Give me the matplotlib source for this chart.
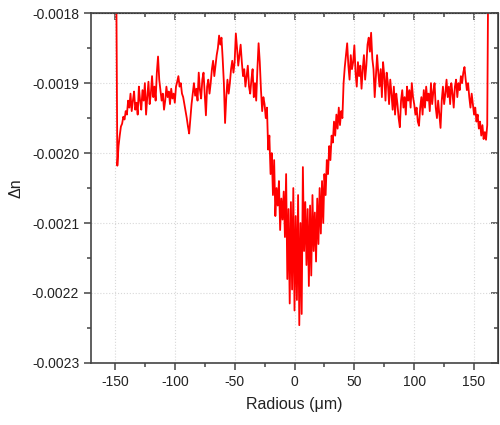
import matplotlib

matplotlib.use("Agg")
import matplotlib.pyplot as plt
from matplotlib.ticker import MultipleLocator, FormatStrFormatter

plt.rcParams["font.family"] = ["Liberation Sans", "DejaVu Sans"]
plt.rcParams["axes.unicode_minus"] = False

# Radius (um) and refractive-index change.
RADIUS = [
    -150, -149, -148, -147, -146, -145, -144, -143, -142, -141, -140, -139, -138, -137, -136, -135,
    -134, -133, -132, -131, -130, -129, -128, -127, -126, -125, -124, -123, -122, -121, -120, -119,
    -118, -117, -116, -115, -114, -113, -112, -111, -110, -109, -108, -107, -106, -105, -104, -103,
    -102, -101, -100, -99, -98, -97, -96, -95, -94, -93, -92, -91, -90, -89, -88, -87,
    -86, -85, -84, -83, -82, -81, -80, -79, -78, -77, -76, -75, -74, -73, -72, -71,
    -70, -69, -68, -67, -66, -65, -64, -63, -62, -61, -60, -59, -58, -57, -56, -55,
    -54, -53, -52, -51, -50, -49, -48, -47, -46, -45, -44, -43, -42, -41, -40, -39,
    -38, -37, -36, -35, -34, -33, -32, -31, -30, -29, -28, -27, -26, -25, -24, -23,
    -22, -21, -20, -19, -18, -17, -16, -15, -14, -13, -12, -11, -10, -9, -8, -7,
    -6, -5, -4, -3, -2, -1, 0, 1, 2, 3, 4, 5, 6, 7, 8, 9,
    10, 11, 12, 13, 14, 15, 16, 17, 18, 19, 20, 21, 22, 23, 24, 25,
    26, 27, 28, 29, 30, 31, 32, 33, 34, 35, 36, 37, 38, 39, 40, 41,
    42, 43, 44, 45, 46, 47, 48, 49, 50, 51, 52, 53, 54, 55, 56, 57,
    58, 59, 60, 61, 62, 63, 64, 65, 66, 67, 68, 69, 70, 71, 72, 73,
    74, 75, 76, 77, 78, 79, 80, 81, 82, 83, 84, 85, 86, 87, 88, 89,
    90, 91, 92, 93, 94, 95, 96, 97, 98, 99, 100, 101, 102, 103, 104, 105,
    106, 107, 108, 109, 110, 111, 112, 113, 114, 115, 116, 117, 118, 119, 120, 121,
    122, 123, 124, 125, 126, 127, 128, 129, 130, 131, 132, 133, 134, 135, 136, 137,
    138, 139, 140, 141, 142, 143, 144, 145, 146, 147, 148, 149, 150, 151, 152, 153,
    154, 155, 156, 157, 158, 159, 160, 161, 162,
]

DELTA_N = [
    # -150 .. -135
    -0.001700, -0.001720, -0.002018, -0.001990, -0.001975, -0.001962, -0.001958, -0.001948,
    -0.001952, -0.001940, -0.001945, -0.001925, -0.001935, -0.001915, -0.001940, -0.001925,
    # -134 .. -119
    -0.001912, -0.001938, -0.001928, -0.001945, -0.001905, -0.001925, -0.001938, -0.001910,
    -0.001925, -0.001900, -0.001945, -0.001920, -0.001898, -0.001930, -0.001915, -0.001890,
    # -118 .. -103
    -0.001920, -0.001905, -0.001925, -0.001885, -0.001862, -0.001895, -0.001910, -0.001925,
    -0.001915, -0.001938, -0.001925, -0.001905, -0.001920, -0.001912, -0.001930, -0.001908,
    # -102 .. -87
    -0.001922, -0.001915, -0.001928, -0.001905, -0.001898, -0.001890, -0.001905, -0.001900,
    -0.001915, -0.001920, -0.001930, -0.001940, -0.001950, -0.001962, -0.001972, -0.001950,
    # -86 .. -71
    -0.001930, -0.001915, -0.001900, -0.001918, -0.001908, -0.001925, -0.001885, -0.001910,
    -0.001922, -0.001895, -0.001885, -0.001915, -0.001946, -0.001905, -0.001895, -0.001915,
    # -70 .. -55
    -0.001900, -0.001880, -0.001868, -0.001890, -0.001875, -0.001860, -0.001850, -0.001832,
    -0.001845, -0.001835, -0.001865, -0.001900, -0.001957, -0.001920, -0.001895, -0.001915,
    # -54 .. -39
    -0.001900, -0.001880, -0.001868, -0.001885, -0.001870, -0.001829, -0.001850, -0.001875,
    -0.001860, -0.001845, -0.001870, -0.001890, -0.001880, -0.001905, -0.001890, -0.001875,
    # -38 .. -23
    -0.001905, -0.001915, -0.001895, -0.001880, -0.001920, -0.001900, -0.001925, -0.001880,
    -0.001843, -0.001870, -0.001910, -0.001940, -0.001920, -0.001930, -0.001950, -0.001935,
    # -22 .. -7
    -0.001995, -0.001975, -0.002030, -0.002000, -0.002060, -0.002010, -0.002090, -0.002050,
    -0.002075, -0.002040, -0.002110, -0.002065, -0.002095, -0.002055, -0.002120, -0.002030,
    # -6 .. 9
    -0.002180, -0.002080, -0.002215, -0.002070, -0.002195, -0.002050, -0.002225, -0.002090,
    -0.002210, -0.002060, -0.002246, -0.002100, -0.002230, -0.002020, -0.002140, -0.002070,
    # 10 .. 25
    -0.002160, -0.002080, -0.002190, -0.002075, -0.002175, -0.002060, -0.002140, -0.002085,
    -0.002155, -0.002065, -0.002130, -0.002050, -0.002115, -0.002040, -0.002100, -0.002030,
    # 26 .. 41
    -0.002060, -0.002010, -0.002030, -0.001990, -0.002010, -0.001975, -0.001985, -0.001955,
    -0.001975, -0.001945, -0.001965, -0.001935, -0.001960, -0.001940, -0.001950, -0.001900,
    # 42 .. 57
    -0.001877, -0.001860, -0.001843, -0.001875, -0.001895, -0.001860, -0.001880, -0.001870,
    -0.001846, -0.001885, -0.001905, -0.001870, -0.001890, -0.001875, -0.001908, -0.001880,
    # 58 .. 73
    -0.001860, -0.001895, -0.001875, -0.001845, -0.001835, -0.001855, -0.001828, -0.001865,
    -0.001880, -0.001920, -0.001890, -0.001860, -0.001885, -0.001905, -0.001880, -0.001920,
    # 74 .. 89
    -0.001870, -0.001890, -0.001925, -0.001885, -0.001900, -0.001930, -0.001895, -0.001915,
    -0.001938, -0.001905, -0.001945, -0.001915, -0.001930, -0.001950, -0.001963, -0.001925,
    # 90 .. 105
    -0.001910, -0.001935, -0.001920, -0.001945, -0.001905, -0.001925, -0.001910, -0.001935,
    -0.001900, -0.001920, -0.001930, -0.001945, -0.001935, -0.001955, -0.001961, -0.001935,
    # 106 .. 121
    -0.001920, -0.001945, -0.001910, -0.001935, -0.001905, -0.001925, -0.001915, -0.001940,
    -0.001900, -0.001930, -0.001912, -0.001900, -0.001935, -0.001950, -0.001925, -0.001945,
    # 122 .. 137
    -0.001964, -0.001925, -0.001905, -0.001930, -0.001915, -0.001895, -0.001920, -0.001905,
    -0.001930, -0.001900, -0.001915, -0.001935, -0.001905, -0.001895, -0.001920, -0.001900,
    # 138 .. 153
    -0.001910, -0.001890, -0.001900, -0.001885, -0.001877, -0.001895, -0.001910, -0.001900,
    -0.001920, -0.001935, -0.001915, -0.001930, -0.001945, -0.001935, -0.001955, -0.001945,
    # 154 .. 162
    -0.001965, -0.001955, -0.001975, -0.001960, -0.001980, -0.001970, -0.001981, -0.001960,
    -0.001700,
]

INK = "#222222"
SPINE = "#444444"
GRID = "#d8d8d8"


def main():
    fig = plt.figure(figsize=(5, 4.25), dpi=100)
    ax = fig.add_axes([0.182, 0.146, 0.814, 0.823])

    ax.plot(RADIUS, DELTA_N, color="#ff0000", linewidth=1.3)

    ax.set_xlim(-170, 170)
    ax.set_ylim(-0.0023, -0.0018)
    ax.xaxis.set_major_locator(MultipleLocator(50))
    ax.xaxis.set_minor_locator(MultipleLocator(25))
    ax.yaxis.set_major_locator(MultipleLocator(0.0001))
    ax.yaxis.set_minor_locator(MultipleLocator(0.00005))
    ax.yaxis.set_major_formatter(FormatStrFormatter("%.4f"))

    ax.grid(True, which="major", color=GRID, linestyle=":", linewidth=0.8)

    ax.tick_params(which="both", direction="out", colors=SPINE,
                   labelcolor=INK, labelsize=10, width=1.1)
    ax.tick_params(which="major", length=5)
    ax.tick_params(which="minor", length=3)
    for spine in ax.spines.values():
        spine.set_color(SPINE)
        spine.set_linewidth(1.2)

    # inward ticks on the opposite frame edges
    top = ax.secondary_xaxis("top")
    top.xaxis.set_major_locator(MultipleLocator(50))
    top.xaxis.set_minor_locator(MultipleLocator(25))
    top.tick_params(which="both", direction="in", labeltop=False, colors=SPINE, width=1.1)
    top.tick_params(which="major", length=5)
    top.tick_params(which="minor", length=3)
    right = ax.secondary_yaxis("right")
    right.yaxis.set_major_locator(MultipleLocator(0.0001))
    right.yaxis.set_minor_locator(MultipleLocator(0.00005))
    right.tick_params(which="both", direction="in", labelright=False, colors=SPINE, width=1.1)
    right.tick_params(which="major", length=5)
    right.tick_params(which="minor", length=3)

    ax.set_xlabel("Radious (\u03bcm)", fontsize=11.5, color=INK, labelpad=6)
    ax.set_ylabel("\u0394n", fontsize=11.5, color=INK, labelpad=6)

    fig.savefig("out.png", dpi=100)


if __name__ == "__main__":
    main()
